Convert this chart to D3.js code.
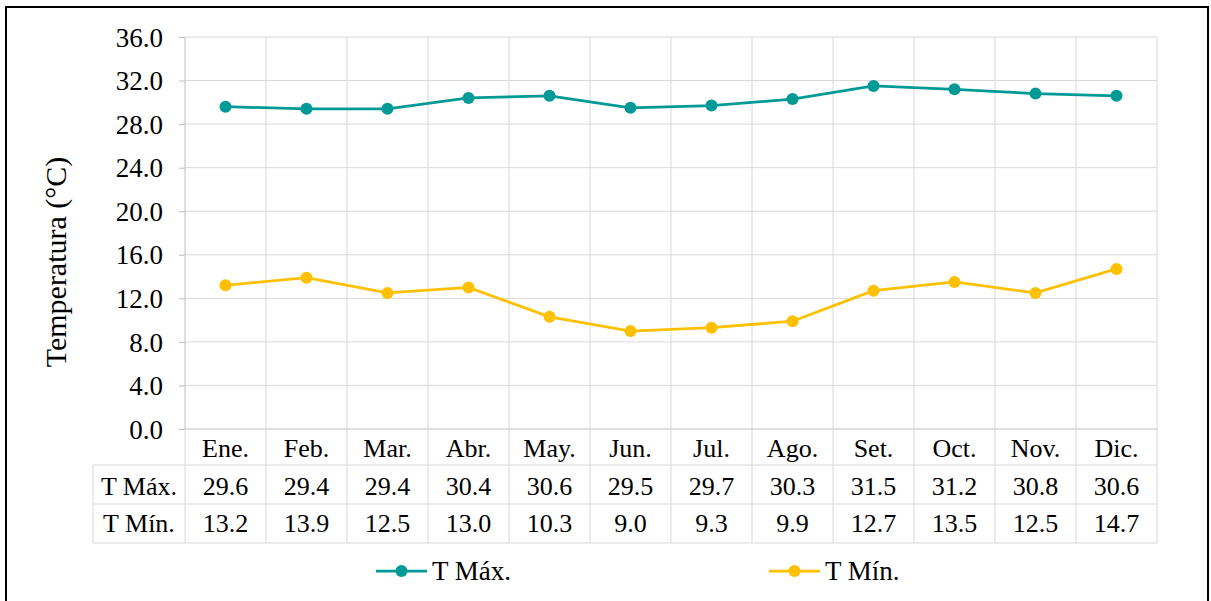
<!DOCTYPE html>
<html><head><meta charset="utf-8">
<script src="https://cdn.jsdelivr.net/npm/d3@7"></script>
<style>html,body{margin:0;padding:0;background:#fff;}svg{display:block;}</style>
</head><body>
<svg id="c" width="1211" height="601"></svg>
<script>
const months = ["Ene.","Feb.","Mar.","Abr.","May.","Jun.","Jul.","Ago.","Set.","Oct.","Nov.","Dic."];
const tMax = [29.6,29.4,29.4,30.4,30.6,29.5,29.7,30.3,31.5,31.2,30.8,30.6];
const tMin = [13.2,13.9,12.5,13.0,10.3,9.0,9.3,9.9,12.7,13.5,12.5,14.7];
const yTicks = [0,4,8,12,16,20,24,28,32,36];
const seriesNames = ["T Máx.","T Mín."];
const colors = ["#009A96","#FFC000"];

const svg = d3.select("#c");
const FONT = "Liberation Serif";
const FS = 26;
const L=185, R=1157, T=37, B=429;
const x = d3.scaleBand().domain(months).range([L,R]);
const y = d3.scaleLinear().domain([0,36]).range([B,T]);
const grid="#d9d9d9";

svg.append("rect").attr("x",6).attr("y",7).attr("width",1202).attr("height",620)
  .attr("fill","none").attr("stroke","#000").attr("stroke-width",2);

svg.append("g").selectAll("line").data(yTicks.slice(1)).join("line")
  .attr("x1",L).attr("x2",R).attr("y1",d=>y(d)).attr("y2",d=>y(d))
  .attr("stroke",grid).attr("stroke-width",1);
svg.append("g").selectAll("line").data(months.slice(1).concat(["end"])).join("line")
  .attr("x1",(d,i)=> i<11 ? x(d) : R).attr("x2",(d,i)=> i<11 ? x(d) : R)
  .attr("y1",T).attr("y2",B).attr("stroke",grid);

const yAxis = d3.axisLeft(y).tickValues(yTicks).tickFormat(d3.format(".1f")).tickSize(6).tickPadding(16);
const ga = svg.append("g").attr("transform",`translate(${L},0)`).call(yAxis);
ga.attr("font-family",FONT).attr("font-size",FS);
ga.select(".domain").remove();
ga.selectAll(".tick line").attr("stroke","#bfbfbf");
ga.selectAll(".tick text").attr("font-family",FONT).attr("font-size",FS+1).attr("fill","#000").attr("dy","0.34em");
svg.append("line").attr("x1",L).attr("x2",L).attr("y1",T).attr("y2",B).attr("stroke","#bfbfbf");

const tblLeft = 93;
svg.append("line").attr("x1",L).attr("x2",R).attr("y1",B).attr("y2",B).attr("stroke","#bfbfbf");
[465,504,543].forEach(v=>svg.append("line").attr("x1",tblLeft).attr("x2",R).attr("y1",v).attr("y2",v).attr("stroke",grid));
const vx = months.map(m=>x(m)).concat([R]);
svg.append("g").selectAll("line").data(vx).join("line")
  .attr("x1",d=>d).attr("x2",d=>d).attr("y1",B).attr("y2",543).attr("stroke",grid);
svg.append("line").attr("x1",tblLeft).attr("x2",tblLeft).attr("y1",465).attr("y2",543).attr("stroke",grid);

const xa = d3.axisBottom(x).tickSize(0).tickPadding(0);
const gx = svg.append("g").attr("transform",`translate(0,${B})`).call(xa);
gx.attr("font-family",FONT).attr("font-size",FS);
gx.select(".domain").remove();
gx.selectAll(".tick text").attr("font-family",FONT).attr("font-size",FS).attr("fill","#000")
  .attr("dy",null).attr("y",28);

const rowData = [tMax,tMin];
rowData.forEach((arr,ri)=>{
  const base = [495,532][ri];
  svg.append("text").attr("x",139).attr("y",base).attr("text-anchor","middle")
    .attr("font-family",FONT).attr("font-size",FS).text(seriesNames[ri]);
  svg.append("g").selectAll("text").data(arr).join("text")
    .attr("x",(d,i)=>x(months[i])+x.bandwidth()/2).attr("y",base)
    .attr("text-anchor","middle").attr("font-family",FONT).attr("font-size",FS)
    .text(d=>d3.format(".1f")(d));
});

svg.append("text").attr("transform","translate(66,262) rotate(-90)").attr("text-anchor","middle")
  .attr("font-family",FONT).attr("font-size",30).text("Temperatura (°C)");

const line = d3.line().x((d,i)=>x(months[i])+x.bandwidth()/2).y(d=>y(d));
rowData.forEach((arr,ri)=>{
  svg.append("path").datum(arr).attr("d",line).attr("fill","none")
    .attr("stroke",colors[ri]).attr("stroke-width",2.75);
  svg.append("g").selectAll("circle").data(arr).join("circle")
    .attr("cx",(d,i)=>x(months[i])+x.bandwidth()/2).attr("cy",d=>y(d)).attr("r",6)
    .attr("fill",colors[ri]);
});

const legX = [376,769];
seriesNames.forEach((n,i)=>{
  const g = svg.append("g").attr("transform",`translate(${legX[i]},571)`);
  g.append("line").attr("x1",0).attr("x2",51).attr("stroke",colors[i]).attr("stroke-width",2.75);
  g.append("circle").attr("cx",25.5).attr("r",6).attr("fill",colors[i]);
  g.append("text").attr("x",56).attr("y",9).attr("font-family",FONT).attr("font-size",27).text(n);
});
</script>
</body></html>
